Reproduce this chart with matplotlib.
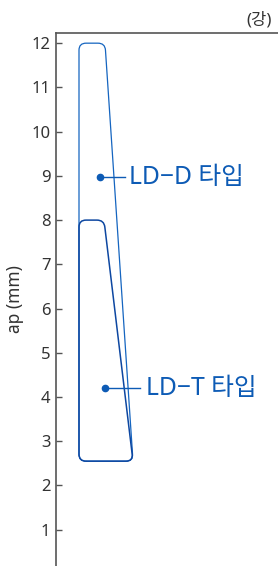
import matplotlib
matplotlib.use('Agg')
import matplotlib.pyplot as plt
from matplotlib.path import Path
from matplotlib.patches import PathPatch
import numpy as np

plt.rcParams['font.family'] = ['Noto Sans', 'Noto Sans CJK KR', 'DejaVu Sans']

# ap ranges (mm) for each insert type
types = ['LD\u2212D 타입', 'LD\u2212T 타입']
ap_max = [12.0, 8.0]
ap_min = [2.55, 2.55]
# horizontal extent of each region (arbitrary feed units)
x_left = [23, 23]
x_top_right = [49, 48]
x_bottom_right = [77, 77]
colors = ['#1565c0', '#0d47a1']
widths = [0.9, 1.1]
# label anchors
label_y = [8.97, 4.2]
label_dot_x = [44, 49]
label_line_end = [69, 84]
label_text_x = [73, 90]
yticks = list(range(1, 13))

K = 44.27  # px per mm on y, x is 1 px per unit


def rounded_path(pts, r=7):
    pts = [(x, y * K) for x, y in pts]
    n = len(pts)
    verts, codes = [], []
    for i in range(n):
        p0 = np.array(pts[i - 1]); p1 = np.array(pts[i]); p2 = np.array(pts[(i + 1) % n])
        d0 = (p0 - p1) / np.linalg.norm(p0 - p1)
        d2 = (p2 - p1) / np.linalg.norm(p2 - p1)
        a = p1 + d0 * r
        b = p1 + d2 * r
        verts += [tuple(a), tuple(p1), tuple(b)]
        codes += [Path.LINETO if i else Path.MOVETO, Path.CURVE3, Path.CURVE3]
    verts.append(verts[0]); codes.append(Path.LINETO)
    verts = [(x, y / K) for x, y in verts]
    return Path(verts, codes)


fig = plt.figure(figsize=(2.78, 5.66), dpi=100)
ax = fig.add_axes([56 / 278, 0, 222 / 278, 533 / 566])
ax.set_xlim(0, 222)
ax.set_ylim(0.18, 12.23)

for i in range(len(types)):
    pts = [(x_left[i], ap_min[i]), (x_left[i], ap_max[i]),
           (x_top_right[i], ap_max[i]), (x_bottom_right[i], ap_min[i])]
    ax.add_patch(PathPatch(rounded_path(pts), facecolor='none',
                           edgecolor=colors[i], lw=widths[i]))
    ax.plot([label_dot_x[i], label_line_end[i]], [label_y[i], label_y[i]],
            color='#0d5bb5', lw=1.0)
    ax.plot(label_dot_x[i], label_y[i], 'o', color='#0d5bb5', ms=4.5)
    ax.text(label_text_x[i], label_y[i], types[i], color='#0d5bb5',
            fontsize=17.8, va='center', ha='left')

ax.set_yticks(yticks)
ax.set_xticks([])
ax.tick_params(axis='y', direction='in', length=4, width=1, color='#555555',
               labelsize=12, labelcolor='#333333', pad=4)
for s in ['right', 'bottom']:
    ax.spines[s].set_visible(False)
for s in ['left', 'top']:
    ax.spines[s].set_color('#555555')
    ax.spines[s].set_linewidth(1.2)
ax.set_ylabel('ap (mm)', fontsize=12.5, color='#333333', labelpad=5)
fig.text(272 / 278, 1 - 20 / 566, '(강)', fontsize=12, color='#333333',
         ha='right', va='center')

fig.savefig('out.png', dpi=100)
